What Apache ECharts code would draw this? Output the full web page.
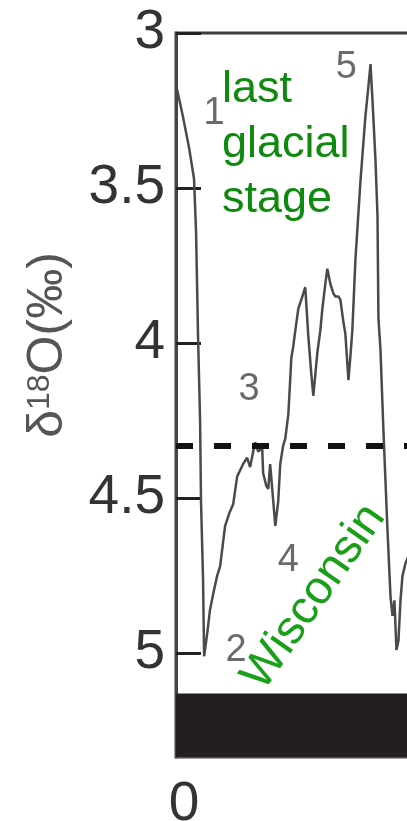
<!DOCTYPE html>
<html>
<head>
<meta charset="utf-8">
<script src="https://cdn.jsdelivr.net/npm/echarts@6/dist/echarts.min.js"></script>
<style>
html,body{margin:0;padding:0;background:#fff;}
#chart{width:407px;height:821px;}
</style>
</head>
<body>
<div id="chart"></div>
<script>
// Age (kyr BP) and benthic d18O (per mil)
var ages = [0.6, 4.5, 8.4, 11.6, 12.9, 14.2, 15.5, 16.1, 17.4, 18.1, 20.0, 21.9, 23.9, 26.5, 28.4, 31.6, 34.2, 36.8, 39.4, 41.3, 43.2, 45.8, 47.7, 49.7, 51.0, 52.9, 55.5, 56.1, 58.1, 59.4, 60.6, 62.6, 63.9, 65.8, 67.1, 69.0, 70.3, 72.3, 73.5, 74.2, 75.5, 76.8, 78.7, 81.3, 83.2, 85.2, 87.1, 88.4, 91.0, 92.9, 94.2, 96.1, 97.4, 99.4, 101.3, 102.6, 104.5, 105.8, 107.7, 109.0, 111.0, 112.3, 113.5, 115.5, 118.7, 121.9, 123.9, 125.2, 126.5, 128.4, 129.7, 130.3, 131.6, 133.5, 136.1, 138.1, 139.4, 140.6, 141.9, 143.2, 144.5, 145.8, 147.7, 150.3];
var d18O = [3.18, 3.27, 3.37, 3.47, 3.64, 3.98, 4.25, 4.51, 4.76, 5.01, 4.94, 4.86, 4.81, 4.75, 4.72, 4.59, 4.55, 4.52, 4.43, 4.41, 4.39, 4.37, 4.40, 4.35, 4.32, 4.35, 4.34, 4.42, 4.46, 4.47, 4.39, 4.51, 4.59, 4.51, 4.39, 4.33, 4.31, 4.23, 4.12, 4.05, 4.01, 3.96, 3.89, 3.85, 3.82, 3.98, 4.10, 4.17, 4.03, 3.96, 3.89, 3.81, 3.76, 3.81, 3.84, 3.85, 3.85, 3.86, 3.93, 3.97, 4.12, 4.04, 3.96, 3.73, 3.48, 3.27, 3.17, 3.10, 3.22, 3.41, 3.59, 3.92, 4.02, 4.28, 4.60, 4.82, 4.88, 4.83, 4.99, 4.96, 4.83, 4.75, 4.71, 4.68];
var thresholdValue = [4.33];
var yTickLabels = [3, 3.5, 4, 4.5, 5];
var xTickLabels = [0];
var stageNames = ['1', '2', '3', '4', '5'];
var stageAges = [24.5, 38.7, 47.1, 72.3, 109.7];
var stageValues = [3.26, 4.99, 4.15, 4.70, 3.11];
var barRange = [5.13, 5.335];

var FONT = '"Liberation Sans", Arial, sans-serif';
var chart = echarts.init(document.getElementById('chart'), null, {renderer: 'canvas'});

var seriesData = ages.map(function (a, i) { return [a, d18O[i]]; });
var stagePoints = stageNames.map(function (n, i) {
  return {name: n, coord: [stageAges[i], stageValues[i]]};
});

var option = {
  animation: false,
  backgroundColor: '#fff',
  grid: {left: 176, top: 33, width: 261, height: 724, containLabel: false,
         outerBoundsMode: 'none', show: true,
         borderColor: '#3c3c3c', borderWidth: 3, backgroundColor: 'transparent'},
  xAxis: {
    type: 'value', min: 0, max: 168, interval: 200,
    axisLine: {show: true, lineStyle: {color: '#555', width: 2}},
    axisTick: {show: false},
    splitLine: {show: false},
    axisLabel: {
      show: true, margin: 20, fontSize: 55, color: '#333', fontFamily: FONT,
      showMaxLabel: false, padding: [0, 0, 0, 16],
      formatter: function (v) { return xTickLabels.indexOf(v) >= 0 ? String(v) : ''; }
    }
  },
  yAxis: {
    type: 'value', inverse: true, min: 3, max: 5.335, interval: 0.5,
    axisLine: {show: true, lineStyle: {color: '#444', width: 3}},
    axisTick: {show: true, inside: true, length: 25, lineStyle: {color: '#222', width: 3}},
    splitLine: {show: false},
    axisLabel: {
      show: true, margin: 11, fontSize: 55, color: '#333', fontFamily: FONT,
      showMaxLabel: false,
      formatter: function (v) {
        for (var i = 0; i < yTickLabels.length; i++) {
          if (Math.abs(yTickLabels[i] - v) < 1e-6) return String(yTickLabels[i]);
        }
        return '';
      }
    }
  },
  series: [{
    type: 'line',
    data: seriesData,
    showSymbol: false,
    symbol: 'none',
    smooth: false,
    lineStyle: {color: '#4a4a4a', width: 2.5},
    z: 3,
    markLine: {
      silent: true, symbol: 'none', animation: false,
      label: {show: false},
      lineStyle: {color: '#111', width: 6, type: [17, 21], opacity: 1},
      data: thresholdValue.map(function (v) { return {yAxis: v}; })
    },
    markArea: {
      silent: true,
      itemStyle: {color: '#231f20', opacity: 1},
      data: [[{yAxis: barRange[0]}, {yAxis: barRange[1]}]]
    },
    markPoint: {
      silent: true, symbol: 'circle', symbolSize: 1,
      itemStyle: {color: 'rgba(0,0,0,0)'},
      label: {show: true, position: 'inside', formatter: '{b}',
              fontSize: 38, color: '#6a6a6a', fontFamily: FONT},
      data: stagePoints
    }
  }],
  graphic: [
    {
      type: 'text', x: 48, y: 345, rotation: Math.PI / 2,
      style: {
        text: '{a|δ}{b|18}{a|O(‰)}',
        align: 'center', verticalAlign: 'middle',
        fill: '#555',
        rich: {
          a: {fontSize: 50, fontFamily: FONT, fill: '#555'},
          b: {fontSize: 32, fontFamily: FONT, fill: '#555', padding: [0, 0, 16, 0]}
        }
      }
    },
    {
      type: 'text', x: 222, y: 62,
      style: {
        text: 'last\nglacial\nstage',
        fontSize: 45, lineHeight: 55, fontFamily: FONT,
        fill: '#0e8a0e', align: 'left', verticalAlign: 'top'
      }
    },
    {
      type: 'text', x: 314, y: 597, rotation: 55 * Math.PI / 180,
      style: {
        text: 'Wisconsin',
        fontSize: 47, fontFamily: FONT,
        fill: '#18a018', align: 'center', verticalAlign: 'middle'
      }
    }
  ]
};
chart.setOption(option);
</script>
</body>
</html>
